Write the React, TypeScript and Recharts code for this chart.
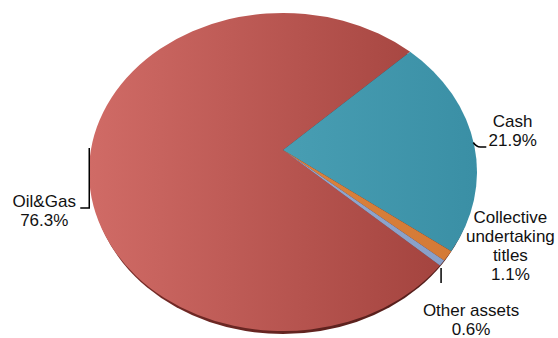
import { Pie, PieChart } from "recharts"

// slice values, clockwise from the bottom-right edge of Oil&Gas
const names = ["Oil&Gas", "Cash", "Collective undertaking titles", "Other assets"]
const values = [76.3, 21.9, 1.1, 0.6]
const labelLines = [
  ["Oil&Gas"],
  ["Cash"],
  ["Collective", "undertaking", "titles"],
  ["Other assets"],
]
const colors = [
  ["#d06b66", "#a4443f"],
  ["#489eb3", "#3a8fa5"],
  ["#da833e", "#d47a36"],
  ["#93aad2", "#889fc8"],
]

const W = 558
const H = 338
const CX = 283
const CY = 172
const RX = 194
const RATIO = 0.82
const APEX_DY = -22
const RIM = 3
const FONT = "'Liberation Sans', Arial, sans-serif"

// label placement relative to the point on the rim at the slice's mid angle
const labelOffsets = [
  { dx: -46, dy: [16.6, 35.6] },
  { dx: 38.4, dy: [-18.7, 0.3] },
  { dx: 62.6, dy: [-33, -14, 5, 24] },
  { dx: 29, dy: [52.8, 71.8] },
]
const leaders = [
  "M -1 -42 L -1 18 L -10 18",
  "M -1 -3 Q 2 1.5 6 1.5 L 12 1.5",
  "",
  "M -1 5 L -1 20",
]

const chartData = names.map((name, i) => ({ name, value: values[i] }))

const rad = (deg: number) => (deg * Math.PI) / 180
const onRim = (cx: number, cy: number, r: number, deg: number) => [
  cx + r * Math.cos(rad(deg)),
  cy - r * RATIO * Math.sin(rad(deg)),
]

const EllipseSlice = (props: any) => {
  const { cx, cy, outerRadius, startAngle, endAngle, index } = props
  const rx = outerRadius
  const ry = outerRadius * RATIO
  const [x1, y1] = onRim(cx, cy, rx, startAngle)
  const [x2, y2] = onRim(cx, cy, rx, endAngle)
  const large = Math.abs(startAngle - endAngle) > 180 ? 1 : 0
  const sweep = startAngle > endAngle ? 1 : 0
  const d = `M ${cx} ${cy + APEX_DY} L ${x1} ${y1} A ${rx} ${ry} 0 ${large} ${sweep} ${x2} ${y2} Z`
  return (
    <g>
      {index === 0 && (
        <ellipse cx={cx} cy={cy + RIM} rx={rx - 2} ry={ry} fill="url(#rimGrad)" />
      )}
      <path d={d} fill={`url(#sliceGrad${index})`} stroke="none" />
    </g>
  )
}

const renderLabel = (props: any) => {
  const { cx, cy, outerRadius, midAngle, index, value } = props
  const [ax, ay] = onRim(cx, cy, outerRadius, midAngle)
  const off = labelOffsets[index]
  const lines = [...labelLines[index], `${value.toFixed(1)}%`]
  return (
    <g>
      {leaders[index] && (
        <path
          d={leaders[index]}
          transform={`translate(${ax} ${ay})`}
          stroke="#000"
          strokeWidth={1.5}
          fill="none"
        />
      )}
      {lines.map((t, k) => (
        <text
          key={k}
          x={ax + off.dx}
          y={ay + off.dy[k]}
          textAnchor="middle"
          fontFamily={FONT}
          fontSize={17}
          fill="#111"
        >
          {t}
        </text>
      ))}
    </g>
  )
}

export default function App() {
  return (
    <div style={{ position: "absolute", left: 0, top: 0, width: W, height: H, background: "#fff" }}>
      <PieChart width={W} height={H} margin={{ top: 0, right: 0, bottom: 0, left: 0 }}>
        <defs>
          {colors.map(([a, b], i) => (
            <linearGradient key={i} id={`sliceGrad${i}`} x1="0" y1="0" x2="1" y2="0">
              <stop offset="0%" stopColor={a} />
              <stop offset="100%" stopColor={b} />
            </linearGradient>
          ))}
          <linearGradient id="rimGrad" x1="0" y1="0" x2="1" y2="0">
            <stop offset="0%" stopColor="#7a2c28" />
            <stop offset="100%" stopColor="#4e1c19" />
          </linearGradient>
        </defs>
        <Pie
          data={chartData}
          dataKey="value"
          nameKey="name"
          cx={CX}
          cy={CY}
          innerRadius={0}
          outerRadius={RX}
          startAngle={-36}
          endAngle={-396}
          stroke="none"
          shape={EllipseSlice}
          label={renderLabel}
          labelLine={false}
          isAnimationActive={false}
        />
      </PieChart>
    </div>
  )
}
